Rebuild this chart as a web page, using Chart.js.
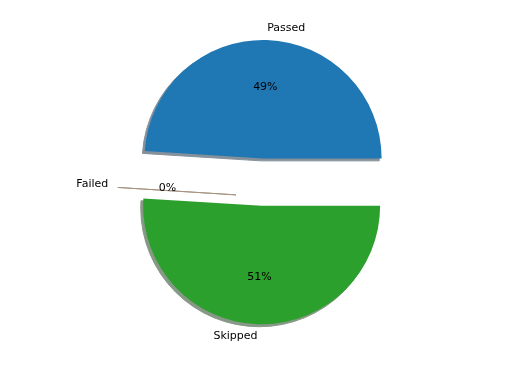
<!DOCTYPE html>
<html><head><meta charset="utf-8">
<script src="https://cdn.jsdelivr.net/npm/chart.js@4.4.1/dist/chart.umd.min.js"></script>
<style>html,body{margin:0;padding:0;background:#fff}#w{width:512px;height:384px;position:relative}</style>
</head><body><div id="w"><canvas id="c"></canvas></div>
<script>
const labels = ['Passed', 'Skipped', 'Failed'];
const values = [49, 51, 0];
const colors = ['#1f77b4', '#2ca02c', '#ff7f0e'];
const explode = [0.3, 0.1, 0.2];
const total = values.reduce((a, b) => a + b, 0);
const RADIUS = 118.5;
const SHADOW = 0.02;

function shadowColor(hex) {
  const n = parseInt(hex.slice(1), 16);
  const c = [(n >> 16) & 255, (n >> 8) & 255, n & 255].map(v => Math.round(v * 0.3 * 0.5 + 255 * 0.5));
  return 'rgb(' + c.join(',') + ')';
}

const piePlugin = {
  id: 'mplPie',
  afterDatasetsUpdate(chart) {
    const meta = chart.getDatasetMeta(0);
    meta.data.forEach((arc, i) => {
      const mid = (arc.startAngle + arc.endAngle) / 2;
      const d = explode[i] * arc.outerRadius;
      arc.x += Math.cos(mid) * d;
      arc.y += Math.sin(mid) * d;
    });
  },
  beforeDatasetsDraw(chart) {
    const ctx = chart.ctx;
    const meta = chart.getDatasetMeta(0);
    meta.data.forEach((arc, i) => {
      const r = arc.outerRadius;
      ctx.save();
      ctx.translate(-SHADOW * r, SHADOW * r);
      ctx.beginPath();
      ctx.moveTo(arc.x, arc.y);
      ctx.arc(arc.x, arc.y, r, arc.startAngle, arc.endAngle);
      ctx.closePath();
      ctx.fillStyle = shadowColor(colors[i]);
      ctx.strokeStyle = shadowColor(colors[i]);
      ctx.lineWidth = 1;
      ctx.fill();
      ctx.stroke();
      ctx.restore();
    });
  },
  afterDatasetsDraw(chart) {
    const ctx = chart.ctx;
    const meta = chart.getDatasetMeta(0);
    ctx.save();
    ctx.font = '11px "DejaVu Sans"';
    ctx.fillStyle = '#000';
    ctx.textBaseline = 'middle';
    meta.data.forEach((arc, i) => {
      const r = arc.outerRadius;
      const mid = (arc.startAngle + arc.endAngle) / 2;
      const c = Math.cos(mid), s = Math.sin(mid);
      ctx.textAlign = c > 0 ? 'left' : 'right';
      ctx.fillText(labels[i], arc.x + 1.1 * r * c, arc.y + 1.1 * r * s);
      ctx.textAlign = 'center';
      ctx.fillText(Math.round(values[i] / total * 100) + '%', arc.x + 0.6 * r * c, arc.y + 0.6 * r * s);
    });
    ctx.restore();
  }
};

new Chart(document.getElementById('c'), {
  type: 'pie',
  data: {
    labels: labels,
    datasets: [{
      data: values,
      backgroundColor: colors,
      borderWidth: 0,
      hoverOffset: 0
    }]
  },
  options: {
    responsive: true,
    maintainAspectRatio: false,
    animation: false,
    radius: RADIUS,
    rotation: 90 - 360 * values[0] / total,
    layout: { padding: { left: 12, right: 0, top: 4, bottom: 0 } },
    plugins: { legend: { display: false }, tooltip: { enabled: false } },
    events: []
  },
  plugins: [piePlugin]
});
</script>
</body></html>
